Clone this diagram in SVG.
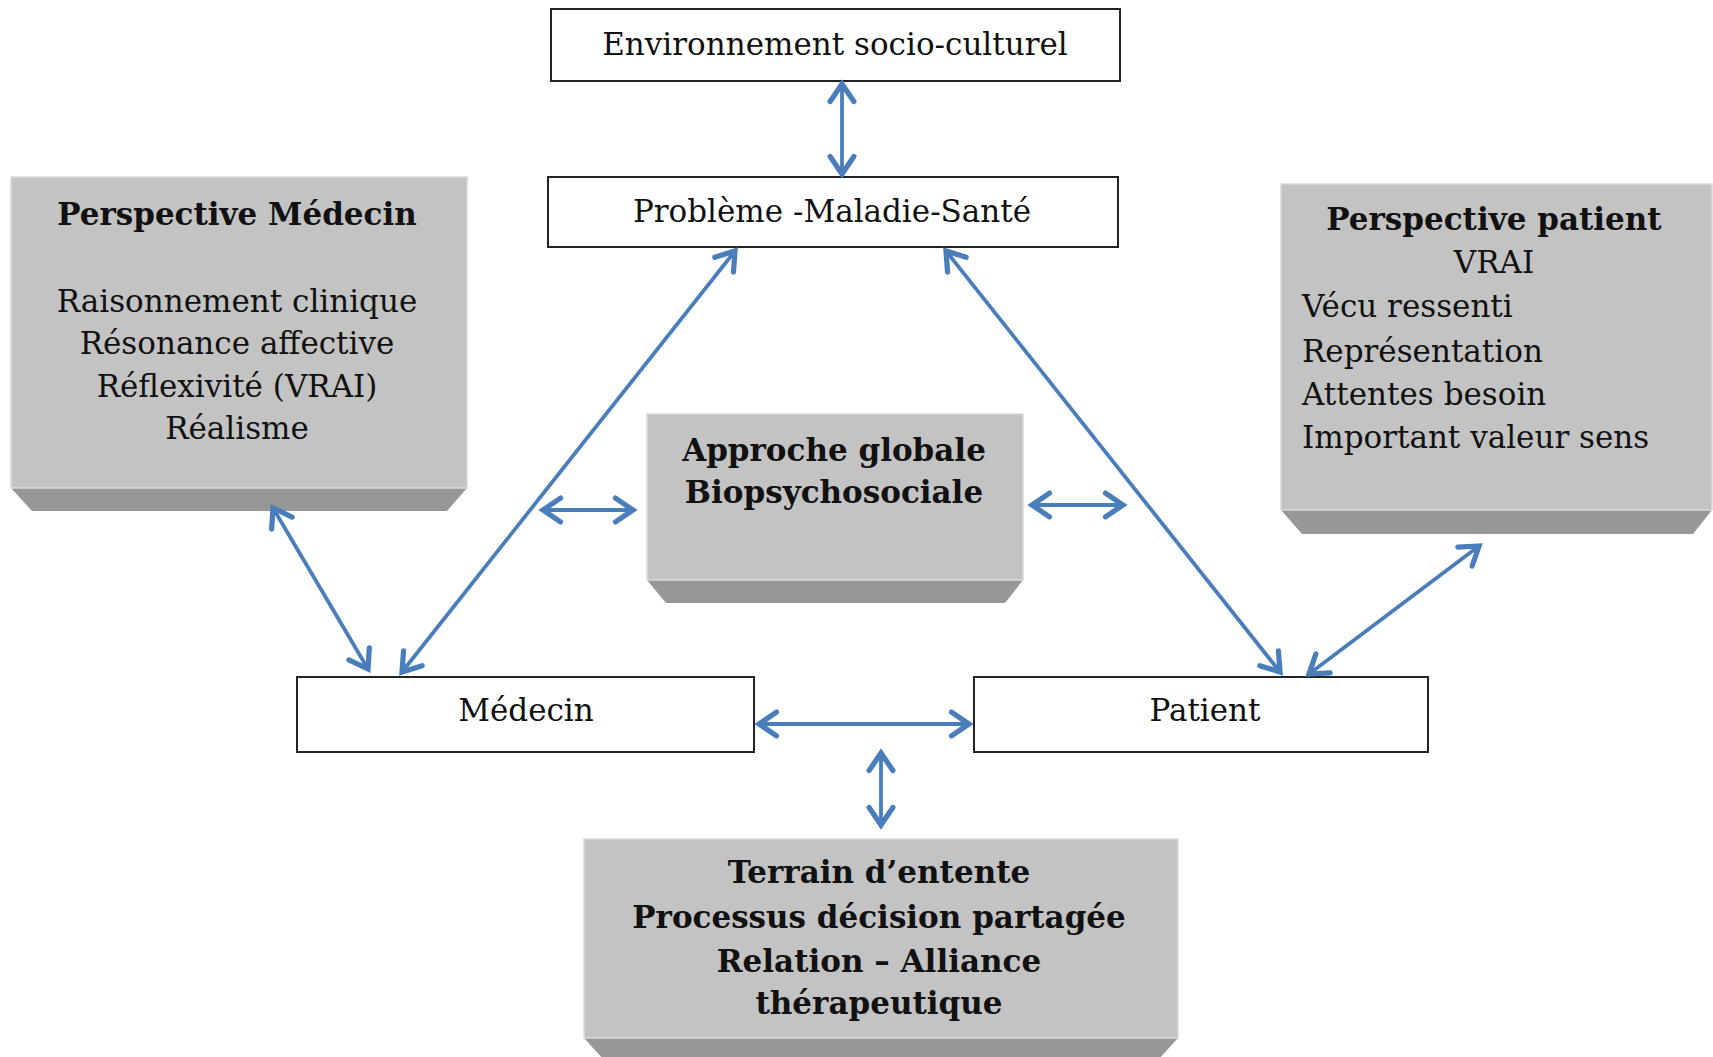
<svg xmlns="http://www.w3.org/2000/svg" width="1713" height="1057" viewBox="0 0 1713 1057">
<style>
.box{fill:#fff;stroke:#222;stroke-width:2}
.face{fill:#c3c3c3;stroke:#dadada;stroke-width:1.5}
.bev{fill:#979797}
.t{font-family:"DejaVu Serif","Liberation Serif",serif;font-size:31px;fill:#111}
.b{font-family:"DejaVu Serif","Liberation Serif",serif;font-size:31px;font-weight:bold;fill:#111}
.c{text-anchor:middle}
.con line{stroke:#4a7ebb;stroke-width:3.8;fill:none;marker-start:url(#ah);marker-end:url(#ah)}
</style>
<defs>
<marker id="ah" markerUnits="userSpaceOnUse" orient="auto-start-reverse" refX="0" refY="0" markerWidth="30" markerHeight="30" viewBox="-16 -12 20 24" overflow="visible">
<path d="M-14,-9.5 L0,0 L-14,9.5" fill="none" stroke="#4a7ebb" stroke-width="4.2" stroke-linecap="round" stroke-linejoin="miter"/>
</marker>
</defs>
<rect width="1713" height="1057" fill="#fff"/>

<g id="env">
<rect class="box" x="551" y="9" width="569" height="72"/>
<text class="t c" x="835" y="55">Environnement socio-culturel</text>
</g>

<g id="probleme">
<rect class="box" x="548" y="177" width="570" height="70"/>
<text class="t c" x="832" y="222">Problème -Maladie-Santé</text>
</g>

<g id="medecin">
<rect class="box" x="297" y="677" width="457" height="75"/>
<text class="t c" x="526" y="721">Médecin</text>
</g>

<g id="patient">
<rect class="box" x="974" y="677" width="454" height="75"/>
<text class="t c" x="1205" y="721">Patient</text>
</g>

<g id="persp-medecin">
<polygon class="bev" points="11,488 467,488 447,511 32,511"/>
<rect class="face" x="11" y="177" width="456" height="311"/>
<text class="b c" x="237" y="225">Perspective Médecin</text>
<text class="t c" x="237" y="312">Raisonnement  clinique</text>
<text class="t c" x="237" y="354">Résonance affective</text>
<text class="t c" x="237" y="397">Réflexivité (VRAI)</text>
<text class="t c" x="237" y="439">Réalisme</text>
</g>

<g id="persp-patient">
<polygon class="bev" points="1281,510 1712,510 1693,534 1302,534"/>
<rect class="face" x="1281" y="184" width="431" height="326"/>
<text class="b c" x="1494" y="230">Perspective patient</text>
<text class="t c" x="1494" y="273">VRAI</text>
<text class="t" x="1302" y="317">Vécu ressenti</text>
<text class="t" x="1302" y="362">Représentation</text>
<text class="t" x="1302" y="405">Attentes besoin</text>
<text class="t" x="1302" y="448">Important valeur sens</text>
</g>

<g id="approche">
<polygon class="bev" points="647,580 1023,580 1005,603 666,603"/>
<rect class="face" x="647" y="414" width="376" height="166"/>
<text class="b c" x="834" y="461">Approche globale</text>
<text class="b c" x="834" y="503">Biopsychosociale</text>
</g>

<g id="terrain">
<polygon class="bev" points="584,1038 1178,1038 1158,1060 604,1060"/>
<rect class="face" x="584" y="839" width="594" height="199"/>
<text class="b c" x="879" y="883">Terrain d’entente</text>
<text class="b c" x="879" y="928">Processus décision partagée</text>
<text class="b c" x="879" y="972">Relation – Alliance</text>
<text class="b c" x="879" y="1014">thérapeutique</text>
</g>

<g id="connectors" class="con">
<line x1="842" y1="84" x2="842" y2="174"/>
<line x1="402" y1="672" x2="735" y2="251"/>
<line x1="1280" y1="672" x2="946" y2="251"/>
<line x1="273" y1="508" x2="368" y2="669"/>
<line x1="1479" y1="546" x2="1309" y2="674"/>
<line x1="543" y1="510" x2="633" y2="510"/>
<line x1="1032" y1="505" x2="1123" y2="505"/>
<line x1="759" y1="724" x2="969" y2="724"/>
<line x1="881" y1="753" x2="881" y2="825"/>
</g>
</svg>
